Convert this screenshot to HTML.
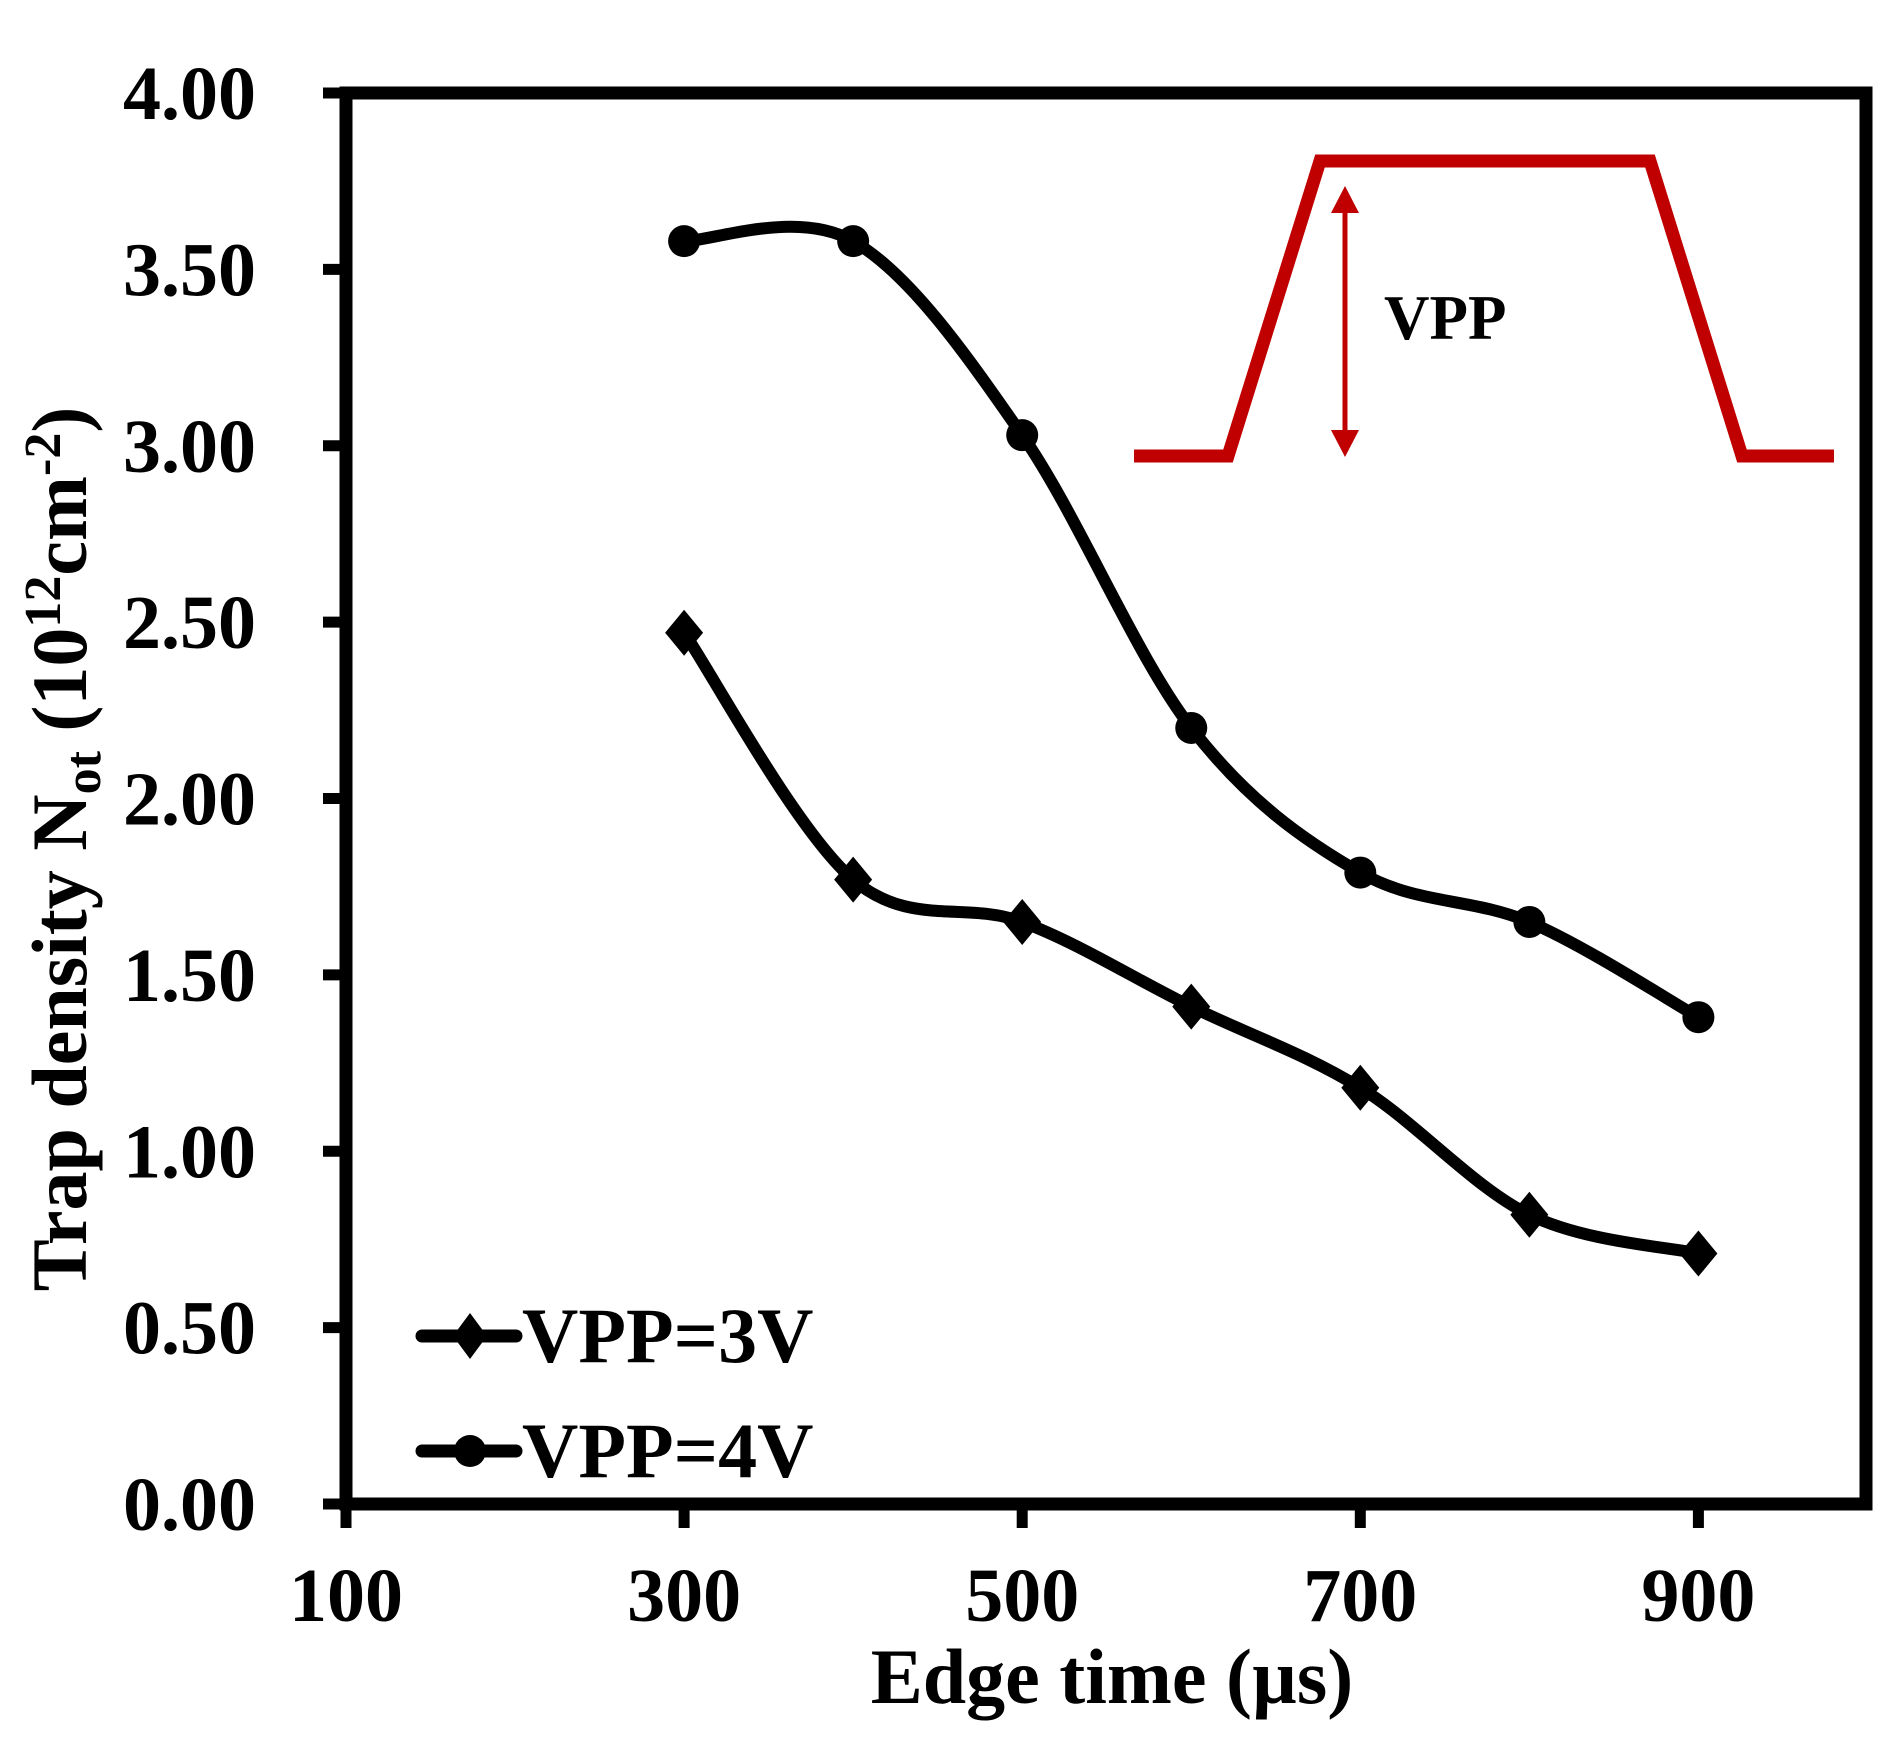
<!DOCTYPE html>
<html><head><meta charset="utf-8"><style>
html,body{margin:0;padding:0;background:#fff;}
svg{display:block;font-family:"Liberation Serif",serif;font-weight:bold;}
</style></head><body>
<svg id="chart" width="1898" height="1742" viewBox="0 0 1898 1742" xmlns="http://www.w3.org/2000/svg">
<g id="pulse">
<polyline points="1134,456 1228,456 1320,161 1650,161 1742,456 1834,456" fill="none" stroke="#c00000" stroke-width="13" stroke-linejoin="miter"/>
<line x1="1345" y1="205" x2="1345" y2="440" stroke="#c00000" stroke-width="5"/>
<polygon points="1345,186 1331,213 1359,213" fill="#c00000"/>
<polygon points="1345,457 1331,430 1359,430" fill="#c00000"/>
<text x="1384" y="339" font-size="63">VPP</text>
</g>
<g id="axes"></g>
<g id="series"></g>
<g id="legend">
<g>
<line x1="422" y1="1336" x2="516" y2="1336" stroke="#000" stroke-width="13" stroke-linecap="round"/>
<polygon points="470,1313 487,1336 470,1359 453,1336" fill="#000"/>
<text x="522" y="1362" font-size="78">VPP=3V</text>
</g>
<g>
<line x1="422" y1="1451" x2="516" y2="1451" stroke="#000" stroke-width="13" stroke-linecap="round"/>
<circle cx="470" cy="1451" r="16" fill="#000"/>
<text x="522" y="1477" font-size="78">VPP=4V</text>
</g>
</g>
<text x="1112" y="1703" font-size="78" text-anchor="middle">Edge time (µs)</text>
<text transform="translate(86,849) rotate(-90)" font-size="78" text-anchor="middle">Trap density N<tspan font-size="52" dy="14">ot</tspan><tspan dy="-14"> (10</tspan><tspan font-size="52" dy="-26">12</tspan><tspan dy="26">cm</tspan><tspan font-size="52" dy="-26">-2</tspan><tspan dy="26">)</tspan></text>
</svg>
<script>
const categories = [300, 400, 500, 600, 700, 800, 900];
const vpp3 = [2.47, 1.77, 1.65, 1.41, 1.18, 0.82, 0.71];
const vpp4 = [3.58, 3.58, 3.03, 2.20, 1.79, 1.65, 1.38];
const yTicks = [0, 0.5, 1, 1.5, 2, 2.5, 3, 3.5, 4];
const yTickLabels = ["0.00","0.50","1.00","1.50","2.00","2.50","3.00","3.50","4.00"];
const xTicks = [100, 300, 500, 700, 900];

const NS = "http://www.w3.org/2000/svg";
const X0 = 346, X1 = 1866, Y0 = 1504, Y1 = 93;
function xs(v){ return X0 + (v - 100) * 1.6905; }
function ys(v){ return Y0 - (v / 4) * (Y0 - Y1); }
function mk(tag, attrs, parent){
  const e = document.createElementNS(NS, tag);
  for (const k in attrs) e.setAttribute(k, attrs[k]);
  parent.appendChild(e);
  return e;
}
const axes = document.getElementById('axes');
const frame = mk('rect', {x:X0, y:Y1, width:X1-X0, height:Y0-Y1, fill:'none', stroke:'#000', 'stroke-width':13}, axes);


yTicks.forEach((v, i) => {
  const y = ys(v);
  const t = mk('line', {x1:323, y1:y, x2:X0, y2:y, stroke:'#000', 'stroke-width':11}, axes);
  
  
  const l = mk('text', {x:256, y:y+26, 'font-size':76, 'text-anchor':'end'}, axes);
  
  
  l.textContent = yTickLabels[i];
});
xTicks.forEach(v => {
  const x = xs(v);
  const t = mk('line', {x1:x, y1:Y0, x2:x, y2:1528, stroke:'#000', 'stroke-width':11}, axes);
  
  
  const l = mk('text', {x:x, y:1621, 'font-size':76, 'text-anchor':'middle'}, axes);
  
  
  l.textContent = String(v);
});
function smoothPath(pts){
  let d = 'M' + pts[0][0] + ',' + pts[0][1];
  for (let i = 0; i < pts.length - 1; i++){
    const p0 = pts[i-1] || pts[i], p1 = pts[i], p2 = pts[i+1], p3 = pts[i+2] || pts[i+1];
    const c1x = p1[0] + (p2[0]-p0[0])/6, c1y = p1[1] + (p2[1]-p0[1])/6;
    const c2x = p2[0] - (p3[0]-p1[0])/6, c2y = p2[1] - (p3[1]-p1[1])/6;
    d += ' C' + c1x + ',' + c1y + ' ' + c2x + ',' + c2y + ' ' + p2[0] + ',' + p2[1];
  }
  return d;
}
const sg = document.getElementById('series');
function drawSeries(vals, name, marker){
  const pts = categories.map((c, i) => [xs(c), ys(vals[i])]);
  const p = mk('path', {d:smoothPath(pts), fill:'none', stroke:'#000', 'stroke-width':12}, sg);
  
  
  pts.forEach(pt => {
    let m;
    if (marker === 'circle') m = mk('circle', {cx:pt[0], cy:pt[1], r:16, fill:'#000'}, sg);
    else m = mk('polygon', {points:[pt[0],pt[1]-23, pt[0]+19,pt[1], pt[0],pt[1]+23, pt[0]-19,pt[1]].join(' '), fill:'#000'}, sg);
    
    
  });
}
drawSeries(vpp3, 'vpp3', 'diamond');
drawSeries(vpp4, 'vpp4', 'circle');
</script>
</body></html>
